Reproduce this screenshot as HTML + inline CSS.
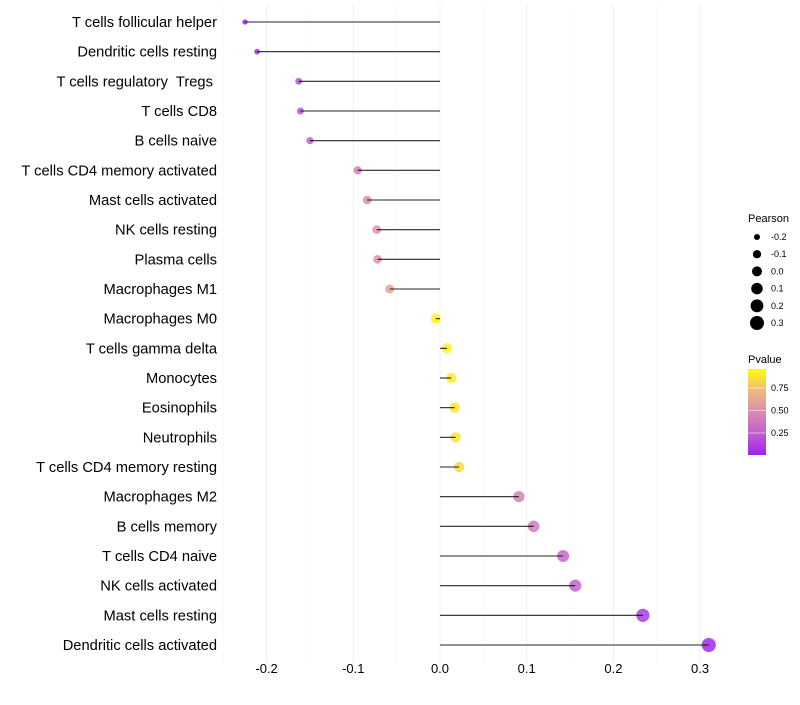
<!DOCTYPE html>
<html><head><meta charset="utf-8"><style>
body{margin:0;background:#fff;font-family:"Liberation Sans",sans-serif;}
svg text{font-family:"Liberation Sans",sans-serif;white-space:pre;}
</style></head><body>
<svg id="chart" width="800" height="700" viewBox="0 0 800 700">
<defs><linearGradient id="pg" x1="0" y1="1" x2="0" y2="0">
<stop offset="0" stop-color="#a020f0"/><stop offset="0.25" stop-color="#c060d0"/><stop offset="0.5" stop-color="#d98caf"/><stop offset="0.75" stop-color="#f0b880"/><stop offset="1" stop-color="#ffff00"/></linearGradient></defs>
<g id="grid"></g>
<g id="marks"></g>
<g id="ylabels"></g>
<g id="xlabels"></g>
<g id="legS">
<text x="748" y="222" font-size="11">Pearson</text>
</g>
<g>
<text x="748" y="363" font-size="11">Pvalue</text>
<rect x="748" y="369" width="18" height="86" fill="url(#pg)"/>
<g id="legC"></g>
</g>
</svg>
<script>
const categories=["T cells follicular helper","Dendritic cells resting","T cells regulatory  Tregs ","T cells CD8","B cells naive","T cells CD4 memory activated","Mast cells activated","NK cells resting","Plasma cells","Macrophages M1","Macrophages M0","T cells gamma delta","Monocytes","Eosinophils","Neutrophils","T cells CD4 memory resting","Macrophages M2","B cells memory","T cells CD4 naive","NK cells activated","Mast cells resting","Dendritic cells activated"];
const pearson=[-0.225,-0.211,-0.163,-0.161,-0.150,-0.095,-0.084,-0.073,-0.072,-0.058,-0.005,0.008,0.013,0.017,0.018,0.022,0.091,0.108,0.142,0.156,0.234,0.310];
const pvalue=[0.02,0.05,0.2,0.2,0.25,0.45,0.5,0.55,0.55,0.65,0.98,0.95,0.93,0.9,0.9,0.88,0.45,0.4,0.3,0.28,0.1,0.03];
const xTicks=[-0.2,-0.1,0.0,0.1,0.2,0.3];
const xMinor=[-0.25,-0.15,-0.05,0.05,0.15,0.25];
const sizeLegend=[-0.2,-0.1,0.0,0.1,0.2,0.3];
const colorLegend=[0.25,0.5,0.75];
const NS="http://www.w3.org/2000/svg";
const xs=v=>440+v*867;
const ys=i=>22+i*(623/21);
const rs=v=>Math.sqrt(Math.max(2,25+80*v));
const stops=[[0,[160,32,240]],[0.25,[192,96,208]],[0.5,[217,140,175]],[0.75,[240,184,128]],[1,[255,255,0]]];
function col(p){for(let k=1;k<stops.length;k++){if(p<=stops[k][0]){const a=stops[k-1],b=stops[k],t=(p-a[0])/(b[0]-a[0]);return `rgb(${a[1].map((c,j)=>Math.round(c+(b[1][j]-c)*t)).join(',')})`;}}return 'rgb(255,255,0)';}
function mk(tag,at,parent){const e=document.createElementNS(NS,tag);for(const k in at)e.setAttribute(k,at[k]);document.getElementById(parent).appendChild(e);return e;}
xMinor.forEach(v=>{const l=mk('line',{x1:xs(v),x2:xs(v),y1:5,y2:662,stroke:'#f5f5f5','stroke-width':0.6},'grid');

});
xTicks.forEach(v=>{const l=mk('line',{x1:xs(v),x2:xs(v),y1:5,y2:662,stroke:'#efefef','stroke-width':1},'grid');


const t=mk('text',{x:xs(v),y:673,'font-size':13,'text-anchor':'middle',fill:'#000'},'xlabels');t.textContent=v.toFixed(1);

});
categories.forEach((c,i)=>{const t=mk('text',{x:217,y:ys(i)+5,'font-size':14.7,'text-anchor':'end',fill:'#000'},'ylabels');t.textContent=c;


const p=mk('circle',{cx:xs(pearson[i]),cy:ys(i),r:rs(pearson[i]),fill:col(pvalue[i]),'fill-opacity':0.85},'marks');


const l=mk('line',{x1:xs(0),x2:xs(pearson[i]),y1:ys(i),y2:ys(i),stroke:'#000','stroke-width':1.1,'stroke-opacity':0.85},'marks');

});
sizeLegend.forEach((v,i)=>{const y=237+i*17.2;
const c=mk('circle',{cx:757,cy:y,r:rs(v),fill:'#000'},'legS');


const t=mk('text',{x:771,y:y+3,'font-size':9},'legS');t.textContent=v.toFixed(1);

});
colorLegend.forEach(v=>{const y=455.5-v*90;
const l=mk('line',{x1:748,x2:766,y1:y,y2:y,stroke:'#fff','stroke-opacity':0.5},'legC');


const t=mk('text',{x:771,y:y+3,'font-size':9},'legC');t.textContent=v.toFixed(2);

});
</script>
</body></html>
